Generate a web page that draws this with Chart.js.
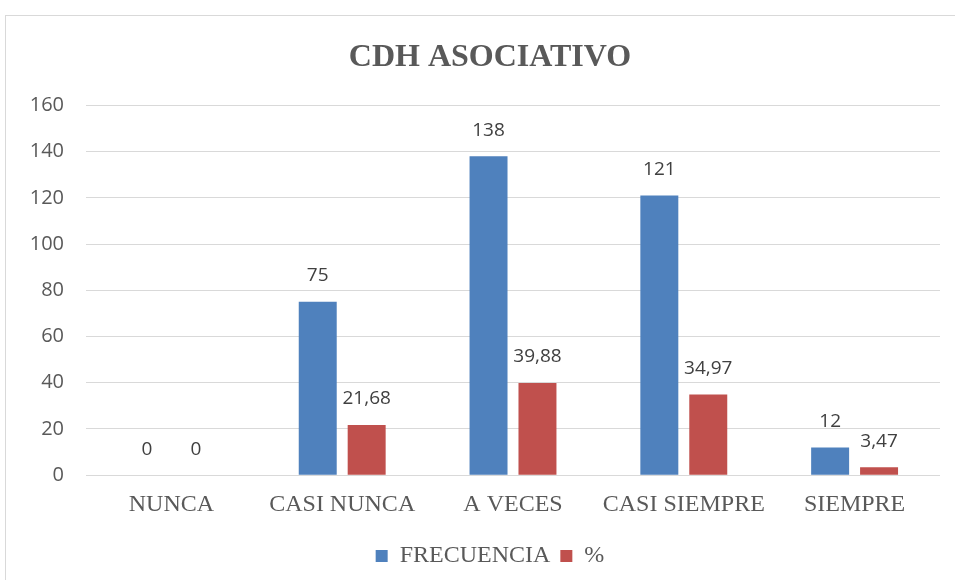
<!DOCTYPE html>
<html>
<head>
<meta charset="utf-8">
<script src="https://cdn.jsdelivr.net/npm/chart.js@4"></script>
<style>
    html, body { margin: 0; padding: 0; background: #fff; overflow: hidden; }
    #marco { position: absolute; left: 5px; top: 15px; width: 1000px; height: 600px; border: 1px solid #d9d9d9; }
    #wrap { position: absolute; left: 0; top: 0; width: 955px; height: 580px; }
</style>
</head>
<body>
<div id="marco"></div>
<div id="wrap"><canvas id="grafico"></canvas></div>
<script>
    const categorias = ["NUNCA", "CASI NUNCA", "A VECES", "CASI SIEMPRE", "SIEMPRE"];
    const frecuencia = [0, 75, 138, 121, 12];
    const porcentaje = [0, 21.68, 39.88, 34.97, 3.47];
    const ticksY = [0, 20, 40, 60, 80, 100, 120, 140, 160];

    // etiquetas de valor encima de cada barra (coma decimal)
    const etiquetas = {
        id: 'etiquetas',
        afterLayout(chart) {
            // titulo y leyenda centrados un poco mas a la derecha, como en el original
            [chart.titleBlock, chart.legend].forEach(b => {
                if (b) { b.left += 10; b.right += 10; }
            });
        },
        afterDatasetsDraw(chart) {
            const c = chart.ctx;
            c.save();
            c.font = '19px "Open Sans"';
            c.fillStyle = '#404040';
            c.textAlign = 'center';
            c.textBaseline = 'middle';
            chart.data.datasets.forEach((ds, i) => {
                chart.getDatasetMeta(i).data.forEach((bar, j) => {
                    const txt = String(ds.data[j]).replace('.', ',');
                    c.fillText(txt, bar.x, bar.y - 26);
                });
            });
            c.restore();
        }
    };

    const ctx = document.getElementById('grafico');

    new Chart(ctx, {
        type: 'bar',
        data: {
            labels: categorias,
            datasets: [
                {
                    label: 'FRECUENCIA',
                    data: frecuencia,
                    backgroundColor: '#4f81bd',
                    categoryPercentage: 0.573,
                    barPercentage: 0.776
                },
                {
                    label: '%',
                    data: porcentaje,
                    backgroundColor: '#c0504d',
                    categoryPercentage: 0.573,
                    barPercentage: 0.776
                }
            ]
        },
        options: {
            responsive: true,
            maintainAspectRatio: false,
            animation: false,
            layout: {
                padding: { left: 20, right: 15, top: 20, bottom: 2 }
            },
            plugins: {
                title: {
                    display: true,
                    text: 'CDH ASOCIATIVO',
                    color: '#595959',
                    font: { family: '"Liberation Serif"', size: 32, weight: 'bold' },
                    padding: { top: 19, bottom: 28 }
                },
                legend: {
                    position: 'bottom',
                    labels: {
                        color: '#595959',
                        font: { family: '"Liberation Serif"', size: 24 },
                        boxWidth: 12,
                        boxHeight: 12,
                        padding: 10
                    }
                },
                tooltip: { enabled: false }
            },
            scales: {
                x: {
                    grid: { display: false, drawTicks: false },
                    border: { display: false },
                    ticks: {
                        color: '#595959',
                        font: { family: '"Liberation Serif"', size: 24 },
                        padding: 15,
                        maxRotation: 0
                    }
                },
                y: {
                    min: 0,
                    max: 160,
                    afterBuildTicks: s => { s.ticks = ticksY.map(v => ({ value: v })); },
                    afterFit: s => { s.width = 66; },
                    grid: { color: '#d9d9d9', lineWidth: 1, drawTicks: false },
                    border: { display: false },
                    ticks: {
                        color: '#595959',
                        font: { family: '"Open Sans"', size: 20 },
                        padding: 22
                    }
                }
            }
        },
        plugins: [etiquetas]
    });
</script>
</body>
</html>
